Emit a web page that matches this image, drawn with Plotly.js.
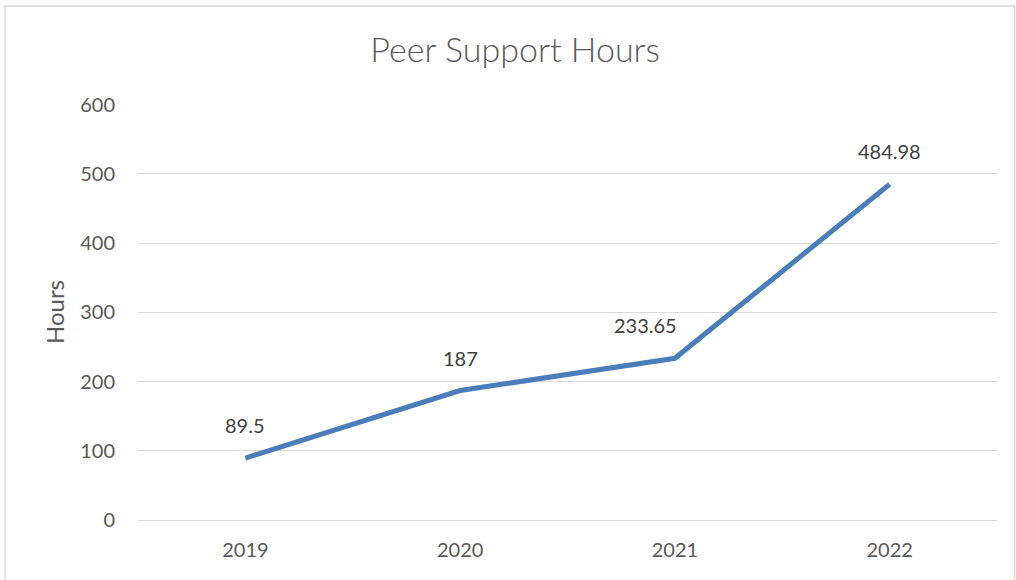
<!DOCTYPE html>
<html>
<head>
<meta charset="utf-8">
<script src="https://cdn.plot.ly/plotly-3.0.1.min.js"></script>
<style>html,body{margin:0;padding:0;background:#fff;}#chart{width:1016px;height:580px;}</style>
</head>
<body>
<div id="chart"></div>
<script>
const years = ['2019', '2020', '2021', '2022'];
const hours = [89.5, 187, 233.65, 484.98];
const labels = ['89.5', '187', '233.65', '484.98'];
const labelShiftX = [0, 0, -29, 0];

const FONT = 'Lato, "Open Sans", sans-serif';

const lineTrace = {
  x: years, y: hours, type: 'scatter', mode: 'lines',
  line: {color: '#4a7ebb', width: 5}
};

const annotations = years.map((yr, i) => ({
  x: i, y: hours[i], xref: 'x', yref: 'y',
  text: labels[i], showarrow: false,
  xanchor: 'center', yanchor: 'middle',
  yshift: 33, xshift: labelShiftX[i],
  font: {family: FONT, size: 20, color: '#404040'}
}));

const layout = {
  width: 1016, height: 580,
  margin: {l: 138, r: 19, t: 104, b: 60},
  paper_bgcolor: '#ffffff', plot_bgcolor: '#ffffff',
  showlegend: false,
  title: {text: 'Peer Support Hours', x: 0.507, xref: 'container', y: 0.914, yref: 'container', yanchor: 'middle',
    font: {family: FONT, size: 34, color: '#595959', weight: 300}},
  xaxis: {type: 'category', range: [-0.5, 3.5], showgrid: false, zeroline: false, showline: false,
    ticks: '', tickfont: {family: FONT, size: 20, color: '#595959'}, ticklabelstandoff: 16},
  yaxis: {range: [0, 601], dtick: 100, tick0: 0, showgrid: true, gridcolor: '#d9d9d9', gridwidth: 1,
    zeroline: true, zerolinecolor: '#d9d9d9', zerolinewidth: 1, showline: false, ticks: '',
    tickfont: {family: FONT, size: 20, color: '#595959'}, ticklabelstandoff: 22,
    title: {text: 'Hours', font: {family: FONT, size: 24, color: '#595959'}, standoff: 8}},
  annotations: annotations,
  shapes: [{type: 'rect', xref: 'paper', yref: 'paper', x0: -133/859, x1: (1014.5 - 138)/859, y0: -0.2, y1: 1 + 98/416,
    line: {color: '#d9d9d9', width: 1.5}, fillcolor: 'rgba(0,0,0,0)', layer: 'below'}]
};

Plotly.newPlot('chart', [lineTrace], layout, {staticPlot: true});
</script>
</body>
</html>
